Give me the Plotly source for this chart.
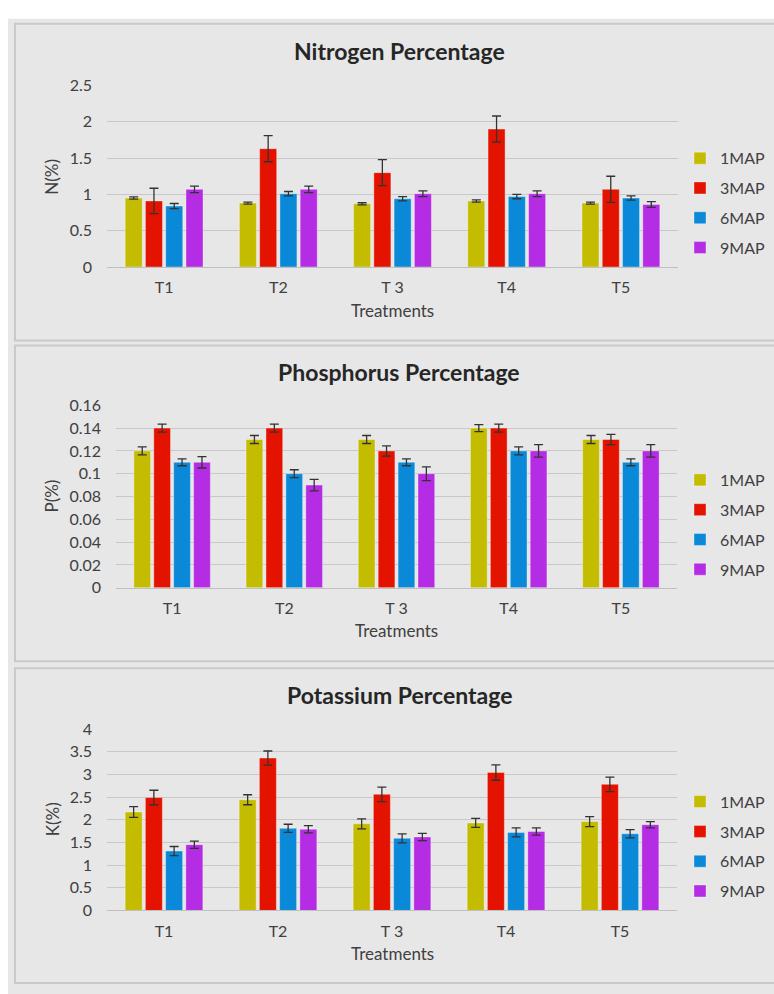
import plotly.graph_objects as go

treatments = ["T1", "T2", "T 3", "T4", "T5"]
series_names = ["1MAP", "3MAP", "6MAP", "9MAP"]
colors = ["#C4BC00", "#E41300", "#0A89D9", "#B42CE3"]

# Nitrogen
n_1map = [0.95, 0.88, 0.87, 0.91, 0.88]
n_3map = [0.91, 1.63, 1.30, 1.90, 1.07]
n_6map = [0.84, 1.01, 0.94, 0.97, 0.95]
n_9map = [1.07, 1.07, 1.01, 1.01, 0.86]
n_err_1map = [0.015, 0.015, 0.015, 0.015, 0.015]
n_err_3map = [0.175, 0.18, 0.18, 0.18, 0.18]
n_err_6map = [0.035, 0.03, 0.03, 0.03, 0.03]
n_err_9map = [0.045, 0.045, 0.04, 0.04, 0.04]

# Phosphorus
p_1map = [0.12, 0.13, 0.13, 0.14, 0.13]
p_3map = [0.14, 0.14, 0.12, 0.14, 0.13]
p_6map = [0.11, 0.10, 0.11, 0.12, 0.11]
p_9map = [0.11, 0.09, 0.10, 0.12, 0.12]
p_err_1map = [0.0035, 0.0035, 0.0035, 0.003, 0.0035]
p_err_3map = [0.0035, 0.0035, 0.0045, 0.0035, 0.0045]
p_err_6map = [0.003, 0.0035, 0.003, 0.0035, 0.003]
p_err_9map = [0.005, 0.005, 0.006, 0.0055, 0.0055]

# Potassium
k_1map = [2.17, 2.44, 1.91, 1.93, 1.96]
k_3map = [2.49, 3.36, 2.56, 3.04, 2.78]
k_6map = [1.31, 1.81, 1.59, 1.72, 1.69]
k_9map = [1.45, 1.79, 1.62, 1.74, 1.89]
k_err_1map = [0.12, 0.11, 0.11, 0.10, 0.11]
k_err_3map = [0.16, 0.155, 0.16, 0.17, 0.16]
k_err_6map = [0.10, 0.09, 0.10, 0.10, 0.09]
k_err_9map = [0.08, 0.08, 0.08, 0.08, 0.07]

W, H = 774, 994
def px(x):
    return x / W
def py(y):
    return 1 - y / H

FONT = "Lato"
TXT = "#404040"

panels = [
    dict(title="Nitrogen Percentage", ytitle="N(%)",
         vals=[n_1map, n_3map, n_6map, n_9map],
         errs=[n_err_1map, n_err_3map, n_err_6map, n_err_9map],
         yrange=[0, 2.5], dtick=0.5,
         box=(15, 14, 337), plot=(107, 678, 77, 262),
         title_y=42, ytitle_y=170, xtitle_y=306, xtitle_x=392, leg_y=197),
    dict(title="Phosphorus Percentage", ytitle="P(%)",
         vals=[p_1map, p_3map, p_6map, p_9map],
         errs=[p_err_1map, p_err_3map, p_err_6map, p_err_9map],
         yrange=[0, 0.16], dtick=0.02,
         box=(15, 342, 664), plot=(116, 677, 403, 589),
         title_y=369, ytitle_y=496, xtitle_y=633, xtitle_x=396, leg_y=525),
    dict(title="Potassium Percentage", ytitle="K(%)",
         vals=[k_1map, k_3map, k_6map, k_9map],
         errs=[k_err_1map, k_err_3map, k_err_6map, k_err_9map],
         yrange=[0, 4], dtick=0.5,
         box=(15, 671, 992), plot=(107, 677, 733, 918),
         title_y=698, ytitle_y=825, xtitle_y=962, xtitle_x=392, leg_y=853),
]

fig = go.Figure()
shapes = [
    dict(type="rect", xref="paper", yref="paper", x0=px(8), x1=1.2, y0=-0.1, y1=py(9),
         fillcolor="#E7E7E7", line=dict(width=0), layer="below"),
]
annotations = []
layout_axes = {}

for i, p in enumerate(panels):
    k = i + 1
    xa = "x" if k == 1 else f"x{k}"
    ya = "y" if k == 1 else f"y{k}"
    leg = "legend" if k == 1 else f"legend{k}"
    for j, name in enumerate(series_names):
        fig.add_trace(go.Bar(
            x=treatments, y=p["vals"][j], name=name,
            marker=dict(color=colors[j], line=dict(color="rgba(255,255,255,0.35)", width=1)),
            error_y=dict(type="data", array=p["errs"][j], visible=True,
                         color="#333333", thickness=1.3, width=4.5),
            xaxis=xa, yaxis=ya, legend=leg, legendgroup=f"{k}-{name}",
        ))
    bx, by0, by1 = p["box"]
    shapes.append(dict(type="rect", xref="paper", yref="paper",
                       x0=px(bx), x1=1.2, y0=py(by1), y1=py(by0),
                       fillcolor="rgba(0,0,0,0)", line=dict(color="#C9C9C9", width=2),
                       layer="below"))
    x0, x1, y0, y1 = p["plot"]
    axn = "" if k == 1 else str(k)
    layout_axes[f"xaxis{axn}"] = dict(
        domain=[px(x0), px(x1)], anchor=ya, showgrid=False, showline=True,
        linecolor="#BFBFBF", linewidth=1, ticks="", ticklabelstandoff=6,
        tickfont=dict(family=FONT, size=16, color=TXT), fixedrange=True,
    )
    layout_axes[f"yaxis{axn}"] = dict(
        domain=[py(y1), py(y0)], anchor=xa, range=p["yrange"], dtick=p["dtick"],
        showgrid=True, gridcolor="#C8C8C8", gridwidth=1, zeroline=False,
        showline=False, ticks="", ticklabelstandoff=14,
        tickfont=dict(family=FONT, size=16, color=TXT), fixedrange=True,
    )
    annotations.append(dict(text=f"<b>{p['title']}</b>", xref="paper", yref="paper",
                            x=px(399), y=py(p["title_y"]), xanchor="center", yanchor="middle",
                            showarrow=False, font=dict(family=FONT, size=23, color="#262626")))
    annotations.append(dict(text=p["ytitle"], xref="paper", yref="paper",
                            x=px(52), y=py(p["ytitle_y"]), xanchor="center", yanchor="middle",
                            textangle=-90, showarrow=False,
                            font=dict(family=FONT, size=17, color=TXT)))
    annotations.append(dict(text="Treatments", xref="paper", yref="paper",
                            x=px(p["xtitle_x"]), y=py(p["xtitle_y"]), xanchor="center",
                            yanchor="middle", showarrow=False,
                            font=dict(family=FONT, size=17, color=TXT)))
    layout_axes[leg] = dict(x=px(680), y=py(p["leg_y"]), xanchor="left", yanchor="middle",
                            bgcolor="rgba(0,0,0,0)", tracegroupgap=6, itemwidth=30,
                            font=dict(family=FONT, size=16, color=TXT))

fig.update_layout(
    width=W, height=H, margin=dict(l=0, r=0, t=0, b=0),
    paper_bgcolor="white", plot_bgcolor="rgba(0,0,0,0)",
    barmode="group", bargap=0.29, bargroupgap=0.16,
    showlegend=True, shapes=shapes, annotations=annotations,
    **layout_axes,
)

pin = ("document.body.style.margin='0';document.body.style.overflow='hidden';"
       "var d=document.getElementById('{plot_id}');"
       "d.style.position='fixed';d.style.top='0px';d.style.left='0px';")
fig.write_html("out.html", config={"displayModeBar": False}, post_script=pin)
